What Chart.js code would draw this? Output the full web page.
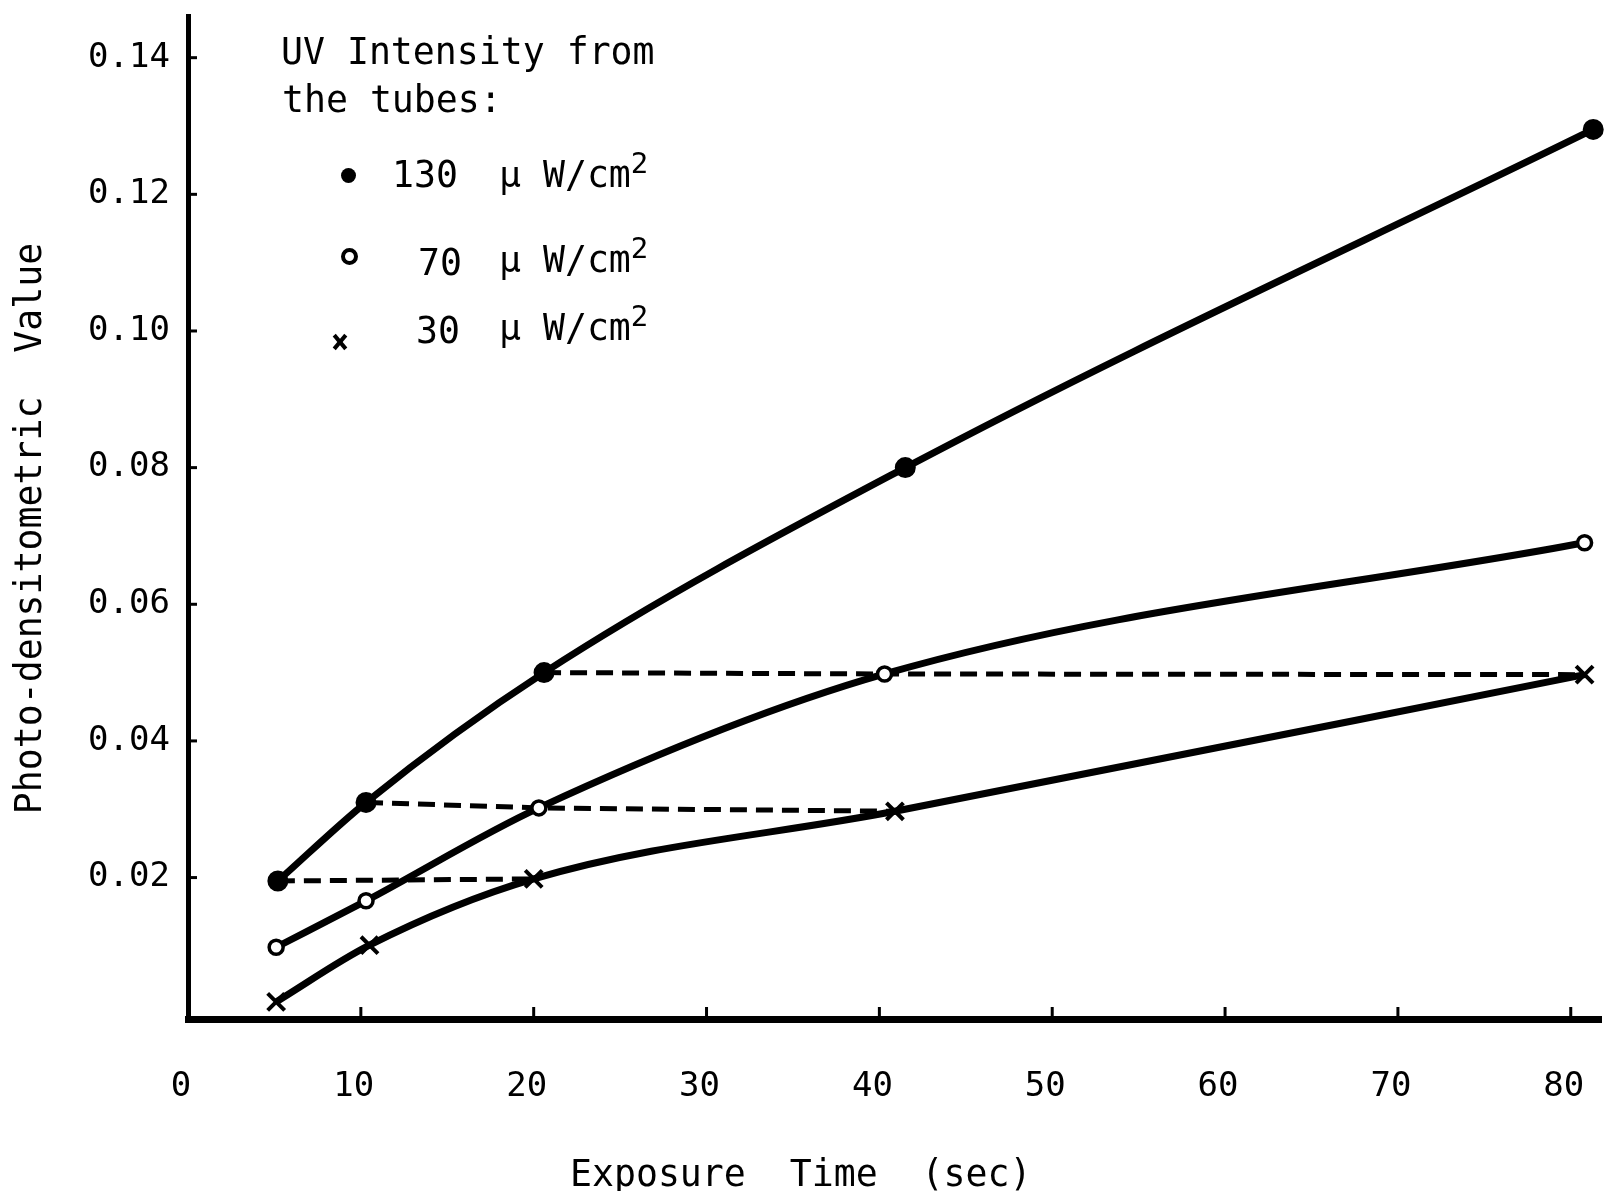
<!DOCTYPE html>
<html>
<head>
<meta charset="utf-8">
<script src="https://cdn.jsdelivr.net/npm/chart.js@4"></script>
<style>
  body { margin: 0; background: #fff; }
  #wrap { position: relative; width: 1617px; height: 1191px; }
  .txt { position: absolute; font-family: "DejaVu Sans Mono", monospace; font-size: 36.5px; color: #000; white-space: pre; line-height: 36px; }
  .txt sup { font-size: 29px; position: relative; top: -8px; vertical-align: top; line-height: 29px; }
  .dot { position: absolute; width: 15px; height: 15px; border-radius: 50%; background: #000; }
  .ring { position: absolute; width: 9px; height: 9px; border-radius: 50%; border: 4px solid #000; background: #fff; }
  .cross { position: absolute; width: 16px; height: 16px; }
  .cross::before, .cross::after { content: ""; position: absolute; left: 6px; top: -1px; width: 4px; height: 18px; background: #000; }
  .cross::before { transform: rotate(40deg); }
  .cross::after { transform: rotate(-40deg); }
</style>
</head>
<body>
<div id="wrap">
  <canvas id="chart" width="1617" height="1191"></canvas>

  <div class="txt" style="left:281px; top:34px;">UV Intensity from</div>
  <div class="txt" style="left:282px; top:82px;">the tubes:</div>

  <div class="dot" style="left:341px; top:168px;"></div>
  <div class="txt" style="left:392px; top:157px;">130</div>
  <div class="txt" style="left:499px; top:157px;">μ W/cm<sup>2</sup></div>

  <div class="ring" style="left:341px; top:248px;"></div>
  <div class="txt" style="left:418px; top:245px;">70</div>
  <div class="txt" style="left:499px; top:242px;">μ W/cm<sup>2</sup></div>

  <div class="cross" style="left:332px; top:334px;"></div>
  <div class="txt" style="left:416px; top:313px;">30</div>
  <div class="txt" style="left:499px; top:310px;">μ W/cm<sup>2</sup></div>

  <div class="txt" style="left:570px; top:1156px;">Exposure  Time  (sec)</div>
</div>

<script>
// values
const time130 = [5.2, 10.3, 20.6, 41.5, 81.3];
const value130 = [0.0195, 0.031, 0.050, 0.080, 0.1295];

const time70 = [5.1, 10.3, 20.3, 40.3, 80.8];
const value70 = [0.0098, 0.0166, 0.0302, 0.0498, 0.069];

const time30 = [5.1, 10.5, 20.0, 40.9, 80.8];
const value30 = [0.0018, 0.0101, 0.0198, 0.0297, 0.0497];

const xTicks = [0, 10, 20, 30, 40, 50, 60, 70, 80];
const yTicks = [0.02, 0.04, 0.06, 0.08, 0.10, 0.12, 0.14];

// dashed links join points of equal density: [series, index]
const dashLinks = [
  [['s130', 0], ['s30', 2]],
  [['s130', 1], ['s70', 2], ['s30', 3]],
  [['s130', 2], ['s70', 3], ['s30', 4]]
];

const INK = '#000';
const MONO = '"DejaVu Sans Mono", monospace';

function toPoints(ts, vs) {
  return ts.map((t, i) => ({x: t, y: vs[i]}));
}

const series = {
  s130: toPoints(time130, value130),
  s70: toPoints(time70, value70),
  s30: toPoints(time30, value30)
};

const innerTicks = {
  id: 'innerTicks',
  afterDraw(chart) {
    const {ctx, chartArea, scales} = chart;
    ctx.save();
    ctx.strokeStyle = INK;
    ctx.lineWidth = 3;
    scales.x.ticks.forEach(t => {
      if (t.value === 0) return;
      const px = scales.x.getPixelForValue(t.value);
      ctx.beginPath();
      ctx.moveTo(px, chartArea.bottom);
      ctx.lineTo(px, chartArea.bottom - 12);
      ctx.stroke();
    });
    scales.y.ticks.forEach(t => {
      const py = scales.y.getPixelForValue(t.value);
      ctx.beginPath();
      ctx.moveTo(chartArea.left, py);
      ctx.lineTo(chartArea.left + 9, py);
      ctx.stroke();
    });
    ctx.restore();
  }
};

const datasets = [];

dashLinks.forEach(link => {
  datasets.push({
    data: link.map(([s, i]) => series[s][i]),
    borderColor: INK,
    borderWidth: 5,
    borderDash: [17, 9],
    pointRadius: 0,
    tension: 0,
    order: 3
  });
});

datasets.push({
  label: '130 μW/cm²',
  data: series.s130,
  borderColor: INK,
  borderWidth: 7,
  pointStyle: 'circle',
  pointRadius: 7,
  pointBackgroundColor: INK,
  pointBorderColor: INK,
  cubicInterpolationMode: 'monotone',
  order: 1
});
datasets.push({
  label: '70 μW/cm²',
  data: series.s70,
  borderColor: INK,
  borderWidth: 7,
  pointStyle: 'circle',
  pointRadius: 7,
  pointBorderWidth: 3.5,
  pointBackgroundColor: '#fff',
  pointBorderColor: INK,
  cubicInterpolationMode: 'monotone',
  order: 1
});
datasets.push({
  label: '30 μW/cm²',
  data: series.s30,
  borderColor: INK,
  borderWidth: 7,
  pointStyle: 'crossRot',
  pointRadius: 12,
  pointBorderWidth: 4,
  pointBorderColor: INK,
  cubicInterpolationMode: 'monotone',
  order: 1
});

const font = {family: MONO, size: 34};

new Chart('chart', {
  type: 'line',
  data: {datasets: datasets},
  options: {
    responsive: false,
    animation: false,
    devicePixelRatio: 1,
    clip: false,
    layout: {padding: {top: 12, right: 10, bottom: 0, left: 0}},
    plugins: {legend: {display: false}, tooltip: {enabled: false}},
    scales: {
      x: {
        type: 'linear',
        min: 0,
        max: 81.75,
        afterBuildTicks: s => { s.ticks = xTicks.map(v => ({value: v})); },
        afterFit: s => { s.height = 172; s.paddingLeft = 0; s.paddingRight = 0; },
        grid: {display: false},
        border: {display: true, color: INK, width: 7},
        ticks: {color: INK, font: font, padding: 40, labelOffset: -7, maxRotation: 0}
      },
      y: {
        min: -0.0007,
        max: 0.1461,
        afterBuildTicks: s => { s.ticks = yTicks.map(v => ({value: v})); },
        afterFit: s => { s.width = 188; s.paddingTop = 0; s.paddingBottom = 0; },
        grid: {display: false},
        border: {display: true, color: INK, width: 5},
        ticks: {color: INK, font: font, padding: 10, callback: v => v.toFixed(2)},
        title: {
          display: true,
          text: 'Photo-densitometric  Value ',
          color: INK,
          font: {family: MONO, size: 36.5},
          padding: {top: 10, bottom: 0}
        }
      }
    }
  },
  plugins: [innerTicks]
});
</script>
</body>
</html>
